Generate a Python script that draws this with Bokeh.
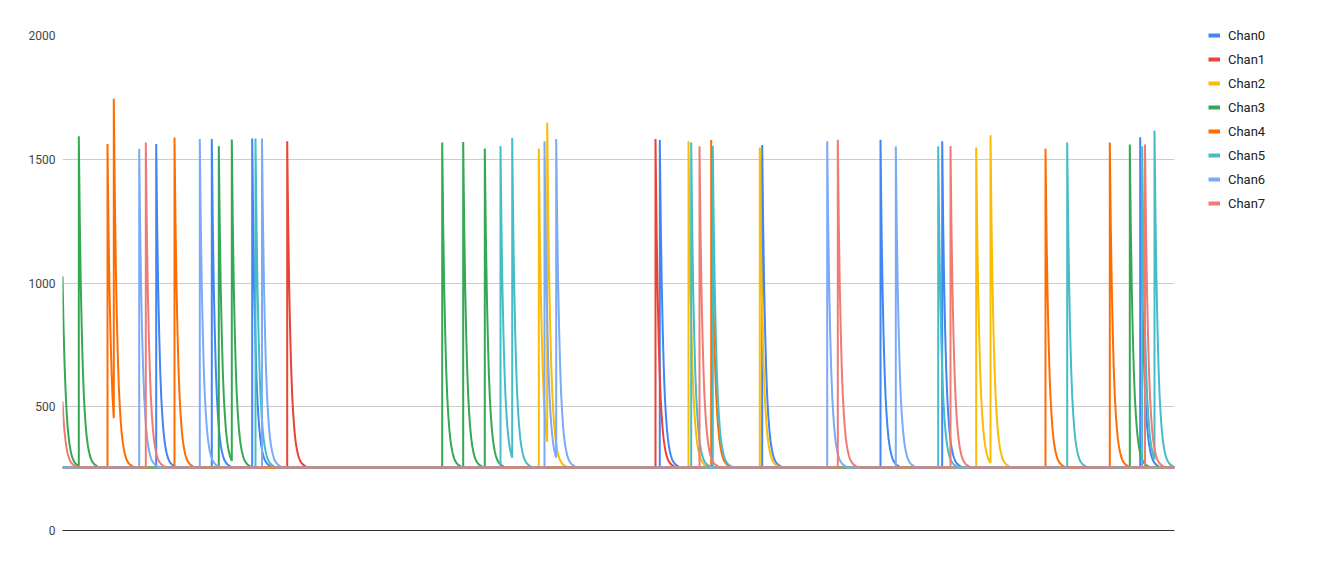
import numpy as np
from bokeh.plotting import figure
from bokeh.models import Legend, LegendItem, Range1d, FixedTicker, ColumnDataSource
from bokeh.embed import file_html
from bokeh.resources import INLINE

# ---------------- data ----------------
BASELINE = 255
X_END = 1112
# decay profile of a spike, fraction of (peak - baseline) per sample after the peak
DECAY = [1.0, 0.74, 0.55, 0.41, 0.30, 0.22, 0.165, 0.122, 0.09, 0.067,
         0.05, 0.037, 0.027, 0.02, 0.015, 0.011, 0.008, 0.006, 0.004, 0.002, 0.0]

CHANNELS = ["Chan0", "Chan1", "Chan2", "Chan3", "Chan4", "Chan5", "Chan6", "Chan7"]
COLORS = ["#4285F4", "#EA4335", "#FBBC04", "#34A853", "#FF6D01", "#46BDC6", "#7BAAF7", "#F07B72"]

chan0_x = [93.7, 149.3, 189.7, 597.3, 699.7, 818.0, 879.7, 1077.7]
chan0_peak = [1562, 1582, 1584, 1578, 1558, 1579, 1573, 1589]

chan1_x = [224.7, 593.0]
chan1_peak = [1573, 1582]

chan2_x = [476.3, 484.7, 626.0, 697.3, 913.7, 928.0]
chan2_peak = [1542, 1648, 1573, 1547, 1547, 1597]

chan3_x = [0.0, 16.3, 156.3, 169.3, 379.7, 400.7, 422.3, 1067.3]
chan3_peak = [1027, 1593, 1553, 1580, 1568, 1570, 1543, 1560]

chan4_x = [45.0, 51.3, 112.0, 648.7, 983.0, 1047.3]
chan4_peak = [1562, 1744, 1588, 1578, 1542, 1568]

chan5_x = [193.0, 438.0, 449.7, 628.7, 650.3, 875.7, 1004.7, 1079.7, 1092.0]
chan5_peak = [1584, 1553, 1586, 1568, 1554, 1552, 1568, 1552, 1616]

chan6_x = [76.7, 137.3, 199.5, 482.0, 493.7, 764.7, 833.3]
chan6_peak = [1542, 1582, 1584, 1573, 1582, 1573, 1552]

chan7_x = [0.0, 83.3, 637.0, 775.3, 888.0, 1082.5]
chan7_peak = [521, 1568, 1552, 1579, 1553, 1560]

SPIKE_X = [chan0_x, chan1_x, chan2_x, chan3_x, chan4_x, chan5_x, chan6_x, chan7_x]
SPIKE_PEAK = [chan0_peak, chan1_peak, chan2_peak, chan3_peak, chan4_peak, chan5_peak, chan6_peak, chan7_peak]
Y_TICKS = [0, 500, 1000, 1500, 2000]


def decay_value(peak, offset):
    frac = np.interp(offset, np.arange(len(DECAY)), DECAY, right=0.0)
    return BASELINE + (peak - BASELINE) * frac


def build_series(xs, peaks):
    px, py = [], []
    if xs[0] > 0:
        px += [0.0]
        py += [BASELINE]
    for i, (x0, pk) in enumerate(zip(xs, peaks)):
        if i == 0:
            before = BASELINE
        else:
            before = decay_value(peaks[i - 1], x0 - xs[i - 1])
        if x0 > 0:
            px.append(x0)
            py.append(before)
        px.append(x0)
        py.append(pk)
        nxt = xs[i + 1] if i + 1 < len(xs) else X_END
        k = 1
        while x0 + k < nxt and k < len(DECAY):
            px.append(x0 + k)
            py.append(decay_value(pk, k))
            k += 1
    px.append(float(X_END))
    py.append(decay_value(peaks[-1], X_END - xs[-1]))
    return px, py


# ---------------- figure ----------------
FRAME_H = 495
p = figure(frame_width=1112, frame_height=FRAME_H,
           min_border_left=62, min_border_right=156,
           min_border_top=35, min_border_bottom=36,
           x_range=Range1d(0, X_END), y_range=Range1d(0, 2000),
           output_backend="svg", toolbar_location=None,
           background_fill_color="white", border_fill_color="white")
p.outline_line_color = None

p.xgrid.visible = False
p.ygrid.grid_line_color = "#cccccc"
p.ygrid.grid_line_width = 1
p.ygrid.ticker = FixedTicker(ticks=Y_TICKS)

p.yaxis.ticker = FixedTicker(ticks=Y_TICKS)
p.yaxis.axis_line_color = None
p.yaxis.major_tick_line_color = None
p.yaxis.minor_tick_line_color = None
p.yaxis.major_tick_out = 0
p.yaxis.major_tick_in = 0
p.yaxis.major_label_standoff = 7
p.yaxis.major_label_text_font = "Roboto"
p.yaxis.major_label_text_font_size = "12px"
p.yaxis.major_label_text_color = "#444444"

p.xaxis.ticker = FixedTicker(ticks=[])
p.xaxis.axis_line_color = "#333333"
p.xaxis.axis_line_width = 1
p.xaxis.major_tick_line_color = None
p.xaxis.minor_tick_line_color = None
p.xaxis.major_label_text_font_size = "0px"

items = []
for name, color, xs, pks in zip(CHANNELS, COLORS, SPIKE_X, SPIKE_PEAK):
    sx, sy = build_series(xs, pks)
    src = ColumnDataSource(dict(x=sx, y=sy))
    p.line("x", "y", source=src, line_color=color, line_width=2)
    # legend-only renderer (kept outside the visible range) for a thicker swatch
    dummy = p.line(x=[-100, -99], y=[-100, -100], line_color=color, line_width=4)
    items.append(LegendItem(label=name, renderers=[dummy]))

N = len(items)
LEG_H = N * 20 + (N - 1) * 4
legend = Legend(items=items, location=(34, FRAME_H + 10 - LEG_H),
                padding=0, margin=0, spacing=4,
                label_height=20, glyph_height=20, glyph_width=12,
                label_standoff=8, border_line_color=None,
                background_fill_alpha=0,
                label_text_font="Roboto", label_text_font_size="13px",
                label_text_color="#222222")
p.add_layout(legend, "right")

open("out.html", "w").write(file_html(p, INLINE))
